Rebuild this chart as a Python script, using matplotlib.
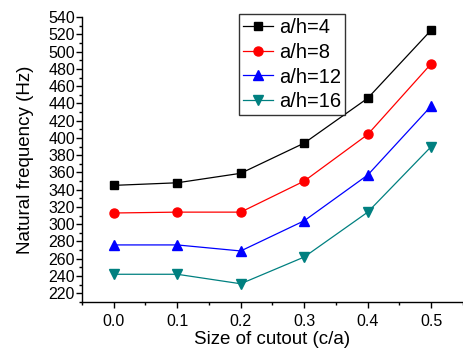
import numpy as np
import matplotlib
matplotlib.use("Agg")
import matplotlib.pyplot as plt
from matplotlib.ticker import MultipleLocator

plt.rcParams['font.family'] = ['Liberation Sans', 'DejaVu Sans']

# cutout size c/a and natural frequencies (Hz)
cutout = [0.0, 0.1, 0.2, 0.3, 0.4, 0.5]
freq_ah4 = [345, 348, 359, 394, 446, 525]
freq_ah8 = [313, 314, 314, 350, 404, 486]
freq_ah12 = [276, 276, 269, 304, 357, 437]
freq_ah16 = [242, 242, 231, 262, 314, 390]
labels = ['a/h=4', 'a/h=8', 'a/h=12', 'a/h=16']

fig = plt.figure(figsize=(4.63, 3.56), dpi=100)
ax = fig.add_axes([0.177, 0.152, 0.823, 0.800])

series = [freq_ah4, freq_ah8, freq_ah12, freq_ah16]
colors = ['black', 'red', 'blue', '#008080']
markers = ['s', 'o', '^', 'v']
sizes = [5.5, 6.5, 7, 7]
for vals, lab, c, m, s in zip(series, labels, colors, markers, sizes):
    ax.plot(cutout, vals, color=c, marker=m, markersize=s, lw=0.9, label=lab)

ax.set_xlim(-0.05, 0.55)
ax.set_ylim(210, 540)
ax.xaxis.set_minor_locator(MultipleLocator(0.05))
ax.yaxis.set_minor_locator(MultipleLocator(10))
ax.set_xticks(cutout)
ax.set_xticklabels([f'{v:.1f}' for v in cutout])
ax.set_yticks(np.arange(220, 541, 20))

for side in ['top', 'right']:
    ax.spines[side].set_visible(False)
for side in ['left', 'bottom']:
    ax.spines[side].set_linewidth(1.0)
ax.tick_params(which='major', direction='out', length=4, width=1, labelsize=11.5, pad=1)
ax.tick_params(which='minor', direction='out', length=2.5, width=1)
ax.tick_params(axis='x', pad=5)

ax.set_xlabel('Size of cutout (c/a)', fontsize=13.5, labelpad=1)
ax.set_ylabel('Natural frequency (Hz)', fontsize=13.5, labelpad=10)

leg = ax.legend(loc='upper left', bbox_to_anchor=(0.412, 1.01), fontsize=14.5,
                frameon=True, fancybox=False, edgecolor='black',
                handlelength=1.5, handletextpad=0.3, borderpad=0.2,
                labelspacing=0.28, borderaxespad=0)
leg.get_frame().set_linewidth(1.0)

fig.savefig('out.png', dpi=100)
